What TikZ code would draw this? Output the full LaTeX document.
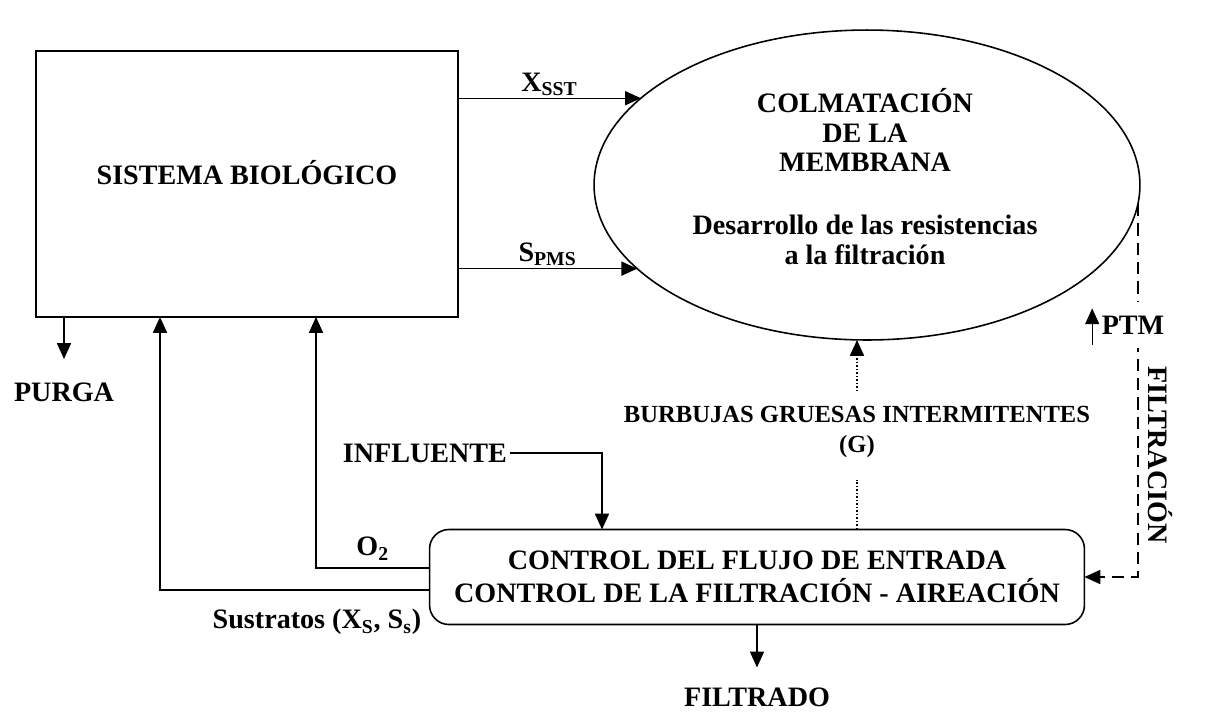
\documentclass[tikz,border=0pt]{standalone}
\usepackage{fontspec}
\setmainfont{Liberation Serif}
\usetikzlibrary{arrows.meta,shapes.geometric}

\tikzset{
  arr/.style={-{Triangle[length=9pt,width=8pt]}, line width=0.8pt},
  lbl/.style={font=\fontsize{16}{19}\selectfont\bfseries, inner sep=1pt, align=center},
}

\begin{document}
\begin{tikzpicture}[x=0.02cm, y=-0.02cm, line width=0.9pt]
\useasboundingbox (0,0) rectangle (1214,718);

% bloques principales
\node[draw, minimum width=8.44cm, minimum height=5.32cm, outer sep=0pt] (sb) at (247,184) {};
\node[lbl] (sbtext) at (247,173) {SISTEMA BIOLÓGICO};
\node[draw, ellipse, minimum width=10.92cm, minimum height=6.2cm, inner sep=0pt, outer sep=0pt] (memb) at (867,185) {};
\node[lbl, font=\fontsize{16}{17}\selectfont\bfseries] (titulo) at (865,130) {COLMATACIÓN\\DE LA\\MEMBRANA};
\node[lbl, font=\fontsize{16}{17}\selectfont\bfseries] (resist) at (865,240) {Desarrollo de las resistencias\\a la filtración};
\node[draw, lbl, rounded corners=11pt, minimum width=13.1cm, minimum height=1.9cm, outer sep=0pt] (ctrl) at (757,577) {CONTROL DEL FLUJO DE ENTRADA\\CONTROL DE LA FILTRACIÓN - AIREACIÓN};

% etiquetas
\node[lbl] (purga) at (64,392) {PURGA};
\node[lbl] (infl) at (425,453) {INFLUENTE};
\node[lbl] (filt) at (757,697) {FILTRADO};
\node[lbl, font=\fontsize{14}{17}\selectfont\bfseries] (burb) at (857,432) {BURBUJAS GRUESAS INTERMITENTES\\(G)};
\node[lbl, rotate=-90] (ftext) at (1160,455) {FILTRACIÓN};

% flechas
\draw[arr] (sb.east |- memb.159.6) -- node[lbl, above=0pt] {X\textsubscript{SST}} (memb.159.6);
\draw[arr] (sb.east |- memb.200.2) -- node[lbl, above=0pt] {S\textsubscript{PMS}} (memb.200.2);
\draw[arr] (sb.south -| purga) -- ([yshift=12pt]purga.north);
\draw[arr] (ctrl.west |- 0,590) -| (sb.south -| 160,0);
\draw[arr] (ctrl.west |- 0,568) -| node[lbl, pos=0.25, above=3pt] {O\textsubscript{2}} (sb.south -| 316,0);
\node[lbl] (sustr) at (317,622) {Sustratos (X\textsubscript{S}, S\textsubscript{s})};
\draw[arr] (infl.east) -| (ctrl.north -| 602,0);
\draw[dash pattern=on 1pt off 1pt] (ctrl.north -| burb) -- ([yshift=-11pt]burb.south);
\draw[arr, dash pattern=on 1pt off 1pt] ([yshift=7pt]burb.north) -- (burb.north |- memb.south);
\draw[arr, dash pattern=on 7pt off 4pt] (memb.-4.7) |- (ctrl.east);
\draw[arr] (ctrl.south) -- ([yshift=10pt]filt.north);

% PTM sobre la linea de filtracion
\node[lbl, fill=white, minimum height=26pt] (ptm) at (1133,325) {PTM};
\draw[arr, line width=0.7pt] ([xshift=-4pt, yshift=2pt]ptm.south west) -- ([xshift=-4pt, yshift=-4pt]ptm.north west);
\end{tikzpicture}
\end{document}
